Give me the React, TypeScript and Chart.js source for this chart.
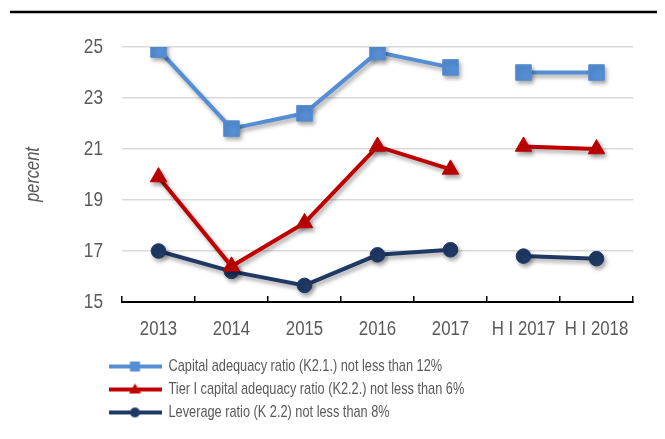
import React, { useEffect, useRef } from 'react';
import { Chart, registerables } from 'chart.js';

Chart.register(...registerables);

const categories = ['2013', '2014', '2015', '2016', '2017', 'H I 2017', 'H I 2018'];
const capitalAdequacy = [24.9, 21.8, 22.4, 24.8, 24.2, 24.0, 24.0];
const tierOne = [19.9, 16.4, 18.1, 21.1, 20.2, 21.1, 21.0];
const leverage = [17.0, 16.2, 15.65, 16.85, 17.05, 16.8, 16.7];
const seriesLabels = [
  'Capital adequacy ratio (K2.1.) not less than 12%',
  'Tier I capital adequacy ratio (K2.2.) not less than 6%',
  'Leverage ratio (K 2.2) not less than 8%',
];
const yTicks = [15, 17, 19, 21, 23, 25];

const COLORS = ['#558ED5', '#C00000', '#1F3864'];
const STYLES = ['rect', 'triangle', 'circle'];
const FONT = "'Liberation Sans', Arial, sans-serif";
const TEXT = '#595959';
const LEGEND_SIZE = 17;

function makeLegendIcon(color: string, style: string) {
  const c = document.createElement('canvas');
  c.width = 53;
  c.height = 14;
  const ctx = c.getContext('2d')!;
  ctx.strokeStyle = color;
  ctx.lineWidth = 4;
  ctx.beginPath();
  ctx.moveTo(0, 7);
  ctx.lineTo(53, 7);
  ctx.stroke();
  ctx.fillStyle = color;
  const cx = 26.5;
  const cy = 7;
  if (style === 'rect') {
    ctx.fillRect(cx - 5, cy - 5, 10, 10);
  } else if (style === 'triangle') {
    ctx.beginPath();
    ctx.moveTo(cx, cy - 6);
    ctx.lineTo(cx + 6, cy + 4);
    ctx.lineTo(cx - 6, cy + 4);
    ctx.closePath();
    ctx.fill();
  } else {
    ctx.beginPath();
    ctx.arc(cx, cy, 5, 0, Math.PI * 2);
    ctx.fill();
  }
  return c;
}

const gapSegment = {
  borderColor: (ctx: any) => (ctx.p0DataIndex === 4 ? 'rgba(0,0,0,0)' : undefined),
};

export default function App() {
  const ref = useRef<HTMLCanvasElement | null>(null);

  useEffect(() => {
    const canvas = ref.current;
    if (!canvas) return;
    // narrow (Arial Narrow-like) text: squeeze glyphs horizontally around their anchor
    const c2d: any = canvas.getContext('2d');
    const origFill = c2d.fillText.bind(c2d);
    c2d.fillText = (text: string, x: number, y: number, maxWidth?: number) => {
      const m = /(\d+(?:\.\d+)?)px/.exec(c2d.font);
      const size = m ? parseFloat(m[1]) : 12;
      const k = Math.abs(size - LEGEND_SIZE) < 0.01 ? 0.75 : 0.82;
      c2d.save();
      c2d.translate(x, y);
      c2d.scale(k, 1);
      if (maxWidth !== undefined && maxWidth !== null) origFill(text, 0, 0, maxWidth / k);
      else origFill(text, 0, 0);
      c2d.restore();
    };

    const icons = COLORS.map((c, i) => makeLegendIcon(c, STYLES[i]));

    const topLine = {
      id: 'topLine',
      afterDraw(chart: any) {
        const ctx = chart.ctx;
        ctx.save();
        ctx.strokeStyle = '#000';
        ctx.lineWidth = 2.5;
        ctx.beginPath();
        ctx.moveTo(2, 4);
        ctx.lineTo(chart.width, 4);
        ctx.stroke();
        ctx.restore();
      },
    };

    const shadow = {
      id: 'shadow',
      beforeDatasetsDraw(chart: any) {
        const ctx = chart.ctx;
        ctx.save();
        ctx.shadowColor = 'rgba(0,0,0,0.35)';
        ctx.shadowBlur = 4;
        ctx.shadowOffsetX = 2;
        ctx.shadowOffsetY = 3;
      },
      afterDatasetsDraw(chart: any) {
        chart.ctx.restore();
      },
    };

    const legendShift = {
      id: 'legendShift',
      afterLayout(chart: any) {
        const lg = chart.legend;
        if (lg) {
          lg.left = chart.chartArea.left - 12 - 6;
          lg.right = lg.left + 560;
          lg.width = 560;
        }
      },
    };

    const datasets = [capitalAdequacy, tierOne, leverage].map((data, i) => ({
      label: seriesLabels[i],
      data,
      borderColor: COLORS[i],
      backgroundColor: COLORS[i],
      pointBackgroundColor: COLORS[i],
      pointBorderColor: COLORS[i],
      pointStyle: STYLES[i],
      pointRadius: i === 0 ? 11 : i === 1 ? 9.5 : 7.3,
      pointBorderWidth: 1,
      borderWidth: 4,
      tension: 0,
      segment: gapSegment,
    }));

    const chart = new Chart(canvas, {
      type: 'line',
      data: { labels: categories, datasets },
      plugins: [topLine, shadow, legendShift],
      options: {
        animation: false,
        responsive: false,
        layout: { padding: { top: 39, right: 32, left: 0, bottom: 8 } },
        scales: {
          x: {
            offset: true,
            grid: {
              offset: true,
              drawOnChartArea: false,
              drawTicks: true,
              tickLength: -6,
              color: '#000',
              lineWidth: 1.5,
            },
            border: { display: true, color: '#000', width: 2 },
            ticks: {
              autoSkip: false,
              maxRotation: 0,
              padding: 21,
              color: TEXT,
              font: { family: FONT, size: 20.5 },
            },
            afterFit: (scale: any) => {
              scale.height = 50;
            },
          },
          y: {
            min: 15,
            max: 25,
            afterBuildTicks: (scale: any) => {
              scale.ticks = yTicks.map((v) => ({ value: v }));
            },
            grid: { color: '#D9D9D9', lineWidth: 1.5, drawTicks: false },
            border: { display: false },
            ticks: {
              padding: 19,
              color: TEXT,
              font: { family: FONT, size: 21 },
            },
            title: {
              display: true,
              text: 'percent',
              color: TEXT,
              padding: { top: 13, bottom: 0 },
              font: { family: FONT, size: 20, style: 'italic' },
            },
            afterFit: (scale: any) => {
              scale.width = 114;
            },
          },
        },
        plugins: {
          tooltip: { enabled: false },
          legend: {
            position: 'bottom',
            align: 'start',
            fullSize: false,
            labels: {
              usePointStyle: true,
              pointStyleWidth: 50,
              padding: 6,
              color: TEXT,
              font: { family: FONT, size: LEGEND_SIZE },
              generateLabels: (ch: any) => {
                const base = Chart.defaults.plugins.legend.labels.generateLabels(ch);
                return base.map((item: any, i: number) => ({ ...item, pointStyle: icons[i] }));
              },
            },
          },
        },
      } as any,
    });
    return () => {
      chart.destroy();
      c2d.fillText = origFill;
    };
  }, []);

  return (
    <div style={{ width: 657, height: 431 }}>
      <canvas ref={ref} width={657} height={431} style={{ display: 'block' }} />
    </div>
  );
}
